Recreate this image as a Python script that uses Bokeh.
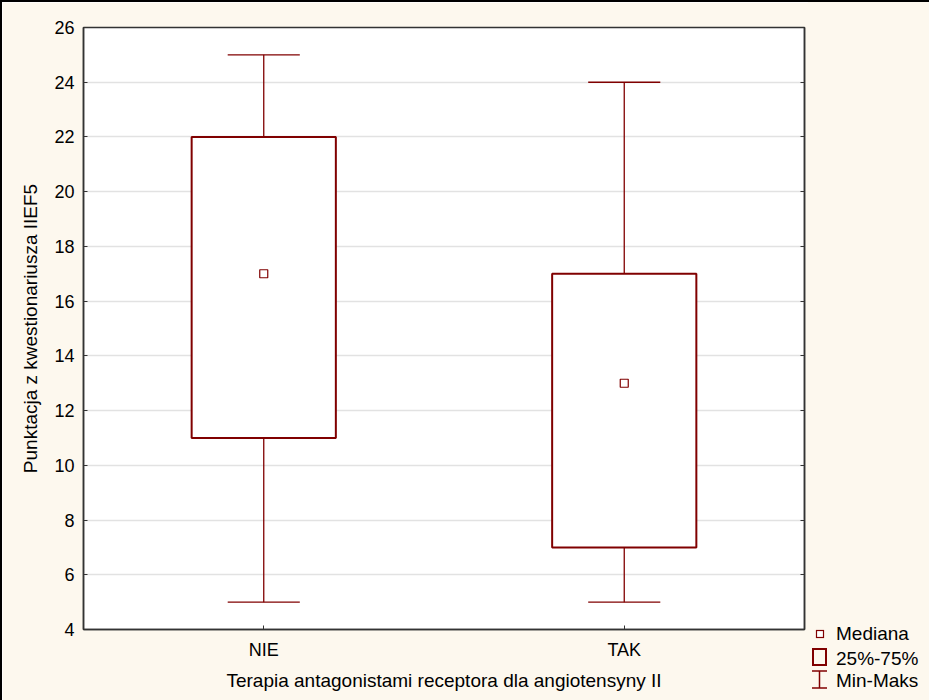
from bokeh.plotting import figure
from bokeh.layouts import row
from bokeh.models import Range1d, LinearAxis, FixedTicker, ColumnDataSource, Div
from bokeh.embed import file_html
from bokeh.resources import INLINE

# Box plot summary per group
groups = ["NIE", "TAK"]
minimum = [5, 5]
q1 = [11, 7]
median = [17, 13]
q3 = [22, 17]
maximum = [25, 24]

y_ticks = [4, 6, 8, 10, 12, 14, 16, 18, 20, 22, 24, 26]

legend_labels = ["Mediana", "25%-75%", "Min-Maks"]

x_title = "Terapia antagonistami receptora dla angiotensyny II"
y_title = "Punktacja z kwestionariusza IIEF5"

FONT = "Liberation Sans"
TICK_FS = "18px"
TITLE_FS = "19px"
RED = "#800000"
BG = "#fdf8ee"
AXIS = "#333333"
BOX_W = 0.4
CAP_W = 0.2

# each group sits in the middle of its own unit slot
xpos = [i + 0.5 for i in range(len(groups))]

src = ColumnDataSource(dict(
    x=xpos, lo=minimum, q1=q1, med=median, q3=q3, hi=maximum,
    cl=[x - CAP_W / 2 for x in xpos], cr=[x + CAP_W / 2 for x in xpos]))

p = figure(width=806, height=698,
           x_range=Range1d(0, len(groups)),
           y_range=Range1d(4, 26),
           output_backend="svg", toolbar_location=None,
           min_border_left=81, min_border_right=4,
           min_border_top=25, min_border_bottom=71,
           background_fill_color="white", border_fill_color=BG,
           outline_line_color=AXIS, outline_line_width=1.5)

# grid
p.xgrid.visible = False
p.ygrid.grid_line_color = "#e2e2e2"
p.ygrid.grid_line_width = 1.5
p.yaxis.ticker = FixedTicker(ticks=y_ticks)
p.xaxis.ticker = FixedTicker(ticks=xpos)
p.xaxis.major_label_overrides = {x: g for x, g in zip(xpos, groups)}

# whiskers and caps
wk = dict(source=src, line_color=RED, line_width=1.3)
p.segment(x0="x", y0="q3", x1="x", y1="hi", **wk)
p.segment(x0="x", y0="q1", x1="x", y1="lo", **wk)
p.segment(x0="cl", y0="hi", x1="cr", y1="hi", **wk)
p.segment(x0="cl", y0="lo", x1="cr", y1="lo", **wk)

# interquartile boxes
p.vbar(x="x", width=BOX_W, bottom="q1", top="q3", source=src,
       fill_color="white", line_color=RED, line_width=2)

# medians
p.scatter(x="x", y="med", source=src, marker="square", size=8,
          fill_color="white", line_color=RED, line_width=1.2)

# axes
for ax in (p.xaxis[0], p.yaxis[0]):
    ax.axis_line_color = AXIS
    ax.axis_line_width = 1.5
    ax.major_tick_line_color = AXIS
    ax.major_tick_in = 4
    ax.major_tick_out = 0
    ax.minor_tick_line_color = None
    ax.major_label_text_font = FONT
    ax.major_label_text_font_size = TICK_FS
    ax.major_label_text_color = "black"
    ax.axis_label_text_font = FONT
    ax.axis_label_text_font_size = TITLE_FS
    ax.axis_label_text_font_style = "normal"
    ax.axis_label_text_color = "black"

p.xaxis.axis_label = x_title
p.yaxis.axis_label = y_title
p.xaxis.major_label_standoff = 10
p.xaxis.axis_label_standoff = 7
p.yaxis.major_label_standoff = 9
p.yaxis.axis_label_standoff = 10

# right edge: inward ticks only
right = LinearAxis(ticker=FixedTicker(ticks=y_ticks), major_tick_in=4,
                   major_tick_out=0, minor_tick_line_color=None,
                   major_tick_line_color=AXIS,
                   axis_line_color=AXIS, axis_line_width=1.5,
                   major_label_text_color=None,
                   major_label_standoff=0)
p.add_layout(right, "right")

# legend panel beside the plot (local pixel coordinates)
rows_y = [638, 663, 684.5]
texts = "".join(
    f'<text x="28" y="{y}" font-family="{FONT}" font-size="{TITLE_FS}" '
    f'fill="black">{t}</text>' for t, y in zip(legend_labels, rows_y))
legend_svg = (
    f'<svg width="121" height="698" xmlns="http://www.w3.org/2000/svg" '
    f'style="position:absolute;left:0;top:0">'
    f'<rect x="8.5" y="628.5" width="7" height="7" fill="white" '
    f'stroke="{RED}" stroke-width="1.2"/>'
    f'<rect x="5" y="647" width="13" height="16" fill="none" '
    f'stroke="{RED}" stroke-width="2"/>'
    f'<line x1="11.5" y1="669" x2="11.5" y2="686" stroke="{RED}" '
    f'stroke-width="1.5"/>'
    f'<line x1="4" y1="669" x2="19" y2="669" stroke="{RED}" '
    f'stroke-width="1.5"/>'
    f'<line x1="4" y1="686" x2="19" y2="686" stroke="{RED}" '
    f'stroke-width="1.5"/>'
    f'{texts}</svg>')

legend = Div(text=f'<div style="position:relative;width:121px;'
                  f'height:698px;">{legend_svg}</div>',
             width=121, height=698,
             styles={"background-color": BG, "margin": "0",
                     "padding": "0"})

layout = row(p, legend, styles={"border-top": "2px solid black",
                                "border-left": "2px solid black"})

open("out.html", "w").write(file_html(layout, INLINE))
